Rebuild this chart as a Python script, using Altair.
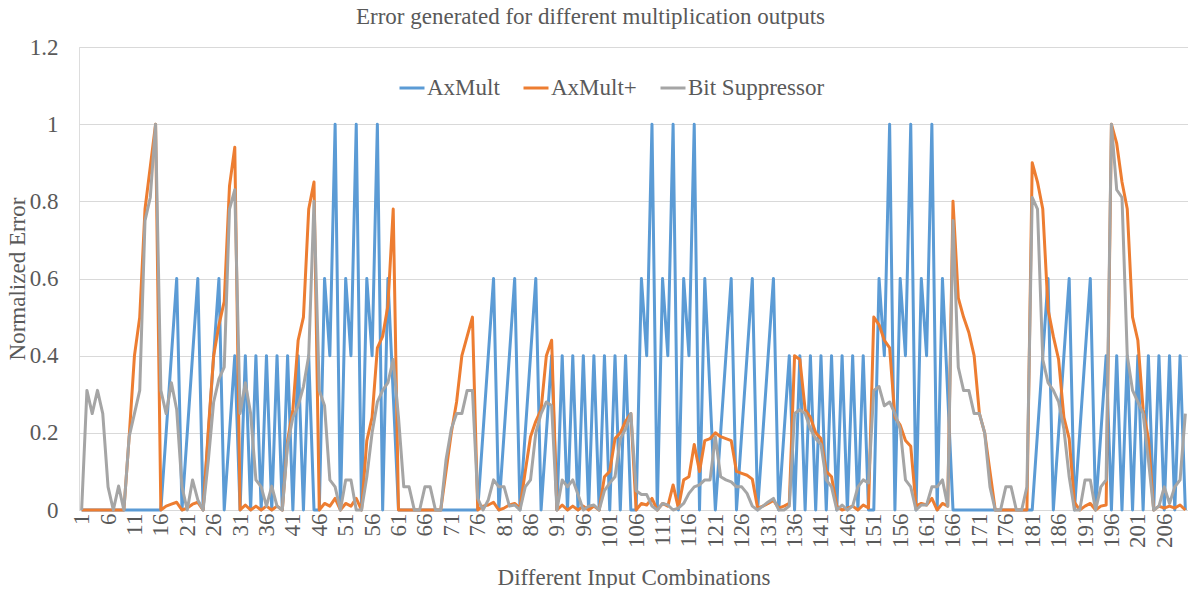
import altair as alt
import pandas as pd

# Input combination index (x categories)
combos = list(range(1, 211))
tick_values = list(range(1, 207, 5))
y_ticks = [0, 0.2, 0.4, 0.6, 0.8, 1.0, 1.2]
series_names = ["AxMult", "AxMult+", "Bit Suppressor"]
series_colors = ["#5B9BD5", "#ED7D31", "#A5A5A5"]

axmult = [
    0, 0, 0, 0, 0, 0, 0, 0, 0, 0,
    0, 0, 0, 0, 0, 0, .2, .4, .6, 0,
    .2, .4, .6, 0, .2, .4, .6, 0, .2, .4,
    0, .4, 0, .4, 0, .4, 0, .4, 0, .4,
    0, .4, 0, .4, 0, 0, .6, .4, 1, 0,
    .6, .4, 1, 0, .6, .4, 1, 0, .6, .3,
    0, 0, 0, 0, 0, 0, 0, 0, 0, 0,
    0, 0, 0, 0, 0, 0, .2, .4, .6, 0,
    .2, .4, .6, 0, .2, .4, .6, 0, .2, .4,
    0, .4, 0, .4, 0, .4, 0, .4, 0, .4,
    0, .4, 0, .4, 0, 0, .6, .4, 1, 0,
    .6, .4, 1, 0, .6, .4, 1, 0, .6, .3,
    0, .2, .4, .6, 0, .2, .4, .6, 0, .2,
    .4, .6, 0, .2, .4, 0, .4, 0, .4, 0,
    .4, 0, .4, 0, .4, 0, .4, 0, .4, 0,
    0, .6, .4, 1, 0, .6, .4, 1, 0, .6,
    .4, 1, 0, .6, .3, 0, 0, 0, 0, 0,
    0, 0, 0, 0, 0, 0, 0, 0, 0, 0,
    0, .2, .4, .6, 0, .2, .4, .6, 0, .2,
    .4, .6, 0, .2, .4, 0, .4, 0, .4, 0,
    .4, 0, .4, 0, .4, 0, .4, 0, .4, 0,
]

axmult_plus = [
    0, 0, 0, 0, 0, 0, 0, 0, 0, .19,
    .40, .50, .78, .89, 1.0, 0, .01, .015, .02, 0,
    .005, .015, .02, 0, .21, .40, .48, .54, .84, .94,
    0, .013, 0, .01, 0, .01, 0, .01, 0, .18,
    .26, .44, .50, .78, .85, 0, .017, .01, .03, 0,
    .017, .01, .03, 0, .18, .24, .42, .45, .53, .78,
    0, 0, 0, 0, 0, 0, 0, 0, 0, .1,
    .2, .28, .4, .45, .5, 0, .01, .013, .02, 0,
    .005, .013, .017, .005, .1, .19, .23, .26, .40, .44,
    0, .013, 0, .01, 0, .01, 0, .01, 0, .086,
    .1, .185, .2, .23, .25, 0, .017, .013, .03, 0,
    .017, .01, .065, .005, .078, .086, .17, .1, .18, .185,
    .2, .19, .185, .18, .1, .095, .09, .08, .005, .01,
    .017, .025, .005, .01, .017, .4, .39, .26, .24, .2,
    .185, .1, .086, .01, 0, .005, .01, 0, .013, .005,
    .5, .48, .44, .42, .24, .22, .18, .165, .01, .017,
    .013, .03, 0, .017, .01, .8, .55, .5, .46, .4,
    .25, .2, .1, 0, 0, 0, 0, 0, 0, 0,
    .9, .85, .78, .52, .45, .39, .24, .185, .02, 0,
    .01, .017, 0, .01, .013, 1.0, .95, .85, .78, .5,
    .44, .26, .185, 0, .01, .005, .01, .005, .013, 0,
]

bit_suppressor = [
    0, .31, .25, .31, .25, .06, 0, .062, 0, .19,
    .25, .31, .75, .81, 1.0, .31, .25, .33, .26, .06,
    0, .078, .026, 0, .13, .28, .34, .37, .78, .83,
    .25, .33, .25, .078, .06, .01, .062, .01, 0, .17,
    .24, .27, .32, .4, .8, .31, .27, .078, .06, 0,
    .078, .078, 0, 0, .086, .2, .28, .31, .33, .39,
    .24, .06, .06, 0, 0, .06, .06, 0, 0, .13,
    .21, .25, .25, .31, .31, .03, 0, .026, .078, .06,
    .06, .01, .013, 0, .06, .078, .2, .25, .28, .27,
    0, .078, .06, .078, .04, 0, .01, .013, 0, .05,
    .07, .086, .185, .21, .25, .05, .04, .04, .01, 0,
    .017, .013, 0, .005, .017, .043, .06, .065, .078, .078,
    .19, .086, .078, .073, .06, .06, .043, .01, 0, .01,
    .021, .03, 0, 0, .01, .25, .26, .25, .21, .185,
    .17, .078, .06, 0, .013, 0, .01, .06, .078, .07,
    .31, .32, .27, .28, .25, .21, .078, .06, 0, .013,
    .013, .06, .06, .078, .01, .75, .37, .31, .31, .25,
    .25, .2, .06, 0, 0, .06, .06, 0, 0, .06,
    .81, .78, .39, .33, .31, .28, .21, .086, 0, 0,
    .078, .078, 0, .06, .078, 1.0, .83, .81, .4, .31,
    .28, .25, .13, 0, .01, .06, .017, .06, .078, .25,
]

FONT = "Liberation Serif"
TXT = "#595959"

frames = []
for name, vals in zip(series_names, [axmult, axmult_plus, bit_suppressor]):
    frames.append(pd.DataFrame({"combo": combos, "error": vals, "series": name}))
df = pd.concat(frames, ignore_index=True)

color = alt.Color(
    "series:N",
    scale=alt.Scale(domain=series_names, range=series_colors),
    legend=alt.Legend(
        title=None, orient="none", legendX=319, legendY=27, direction="horizontal",
        symbolType="stroke", symbolSize=625, symbolStrokeWidth=3,
        labelFont=FONT, labelFontSize=23, labelColor=TXT, labelOffset=1,
        columnPadding=17, padding=0, labelLimit=0,
    ),
)

x = alt.X(
    "combo:Q",
    scale=alt.Scale(domain=[0.5, 210.5], nice=False, zero=False),
    axis=alt.Axis(
        values=tick_values, labelAngle=270, labelOverlap=False, labelFlush=False,
        grid=False, domain=True, domainColor="#D9D9D9", domainWidth=1, ticks=False,
        labelPadding=3, labelFont=FONT, labelFontSize=23, labelColor=TXT,
        title="Different Input Combinations", titleFont=FONT, titleFontSize=23,
        titleFontWeight="normal", titleColor=TXT, titleY=67, titleBaseline="middle",
    ),
)
y = alt.Y(
    "error:Q",
    scale=alt.Scale(domain=[0, 1.2], nice=False),
    axis=alt.Axis(
        values=y_ticks, format="~g", domain=False, ticks=False, grid=True,
        gridColor="#D9D9D9", gridWidth=1, labelPadding=21, labelFont=FONT,
        labelFontSize=23, labelColor=TXT,
        title="Normalized Error", titleFont=FONT, titleFontSize=23,
        titleFontWeight="normal", titleColor=TXT, titleX=-55, titleY=231.5,
        titleAngle=270, titleBaseline="alphabetic", titleAlign="center",
    ),
)

layers = []
for name in series_names:
    layers.append(
        alt.Chart(df)
        .transform_filter(alt.datum.series == name)
        .mark_line(strokeWidth=3, strokeJoin="round")
        .encode(x=x, y=y, color=color)
    )

chart = (
    alt.layer(*layers)
    .properties(
        width=1109, height=463,
        autosize=alt.AutoSizeParams(type="none"),
        padding={"left": 71, "top": 39, "right": 0, "bottom": 78},
        title=alt.TitleParams(
            "Error generated for different multiplication outputs",
            font=FONT, fontSize=23, fontWeight="normal", color=TXT,
            anchor="middle", frame="group", offset=4, baseline="alphabetic",
            dx=-43, dy=15,
        ),
    )
    .configure_view(stroke=None)
    .configure(background="white")
)

chart.save("out.html", embed_options={"renderer": "svg", "actions": False})
